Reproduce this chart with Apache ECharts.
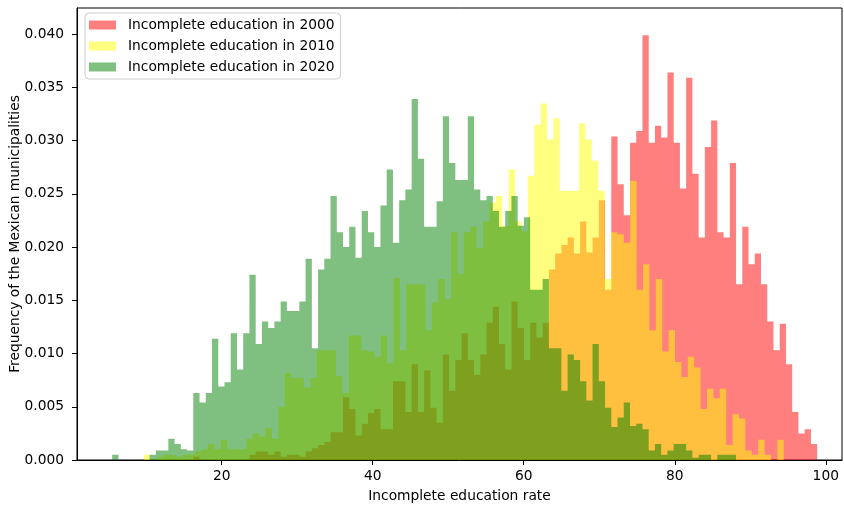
<!DOCTYPE html>
<html>
<head>
<meta charset="utf-8">
<script src="https://cdn.jsdelivr.net/npm/echarts@6/dist/echarts.min.js"></script>
<style>
html,body{margin:0;padding:0;background:#fff;}
#chart{width:844px;height:505px;}
</style>
</head>
<body>
<div id="chart"></div>
<script>
// ---- Data (density histograms, 100 bins each) ----
const seriesNames = ['Incomplete education in 2000', 'Incomplete education in 2010', 'Incomplete education in 2020'];

// bin layout (left edge of first bin, bin width) in "Incomplete education rate" units
const bins2000 = { start: 16.24, width: 0.8262 };
const bins2010 = { start: 9.709, width: 0.8473 };
const bins2020 = { start: 5.497, width: 0.8262 };

const freq2000 = [
  0.0003, 0, 0, 0, 0, 0, 0, 0, 0, 0.0005,
  0.0008, 0.0008, 0.0005, 0.0008, 0.0003, 0.0005, 0.0005, 0.0003, 0.0008, 0.0011,
  0.0014, 0.0017, 0.0026, 0.0026, 0.0059, 0.0048, 0.0023, 0.0034, 0.0044, 0.0048,
  0.0029, 0.0029, 0.0074, 0.0074, 0.0045, 0.0090, 0.0045, 0.0084, 0.0049, 0.0035,
  0.0099, 0.0065, 0.0094, 0.0119, 0.0094, 0.0080, 0.0099, 0.0129, 0.0144, 0.0109,
  0.0085, 0.0149, 0.0124, 0.0094, 0.0129, 0.0115, 0.0129, 0.0179, 0.0194, 0.0202,
  0.0209, 0.0194, 0.0224, 0.0195, 0.0209, 0.0244, 0.0160, 0.0304, 0.0259, 0.0230,
  0.0298, 0.0309, 0.0399, 0.0298, 0.0314, 0.0303, 0.0364, 0.0298, 0.0255, 0.0359,
  0.0269, 0.0209, 0.0294, 0.0319, 0.0214, 0.0209, 0.0279, 0.0165, 0.0219, 0.0184,
  0.0194, 0.0165, 0.0130, 0.0103, 0.0128, 0.0090, 0.0045, 0.0025, 0.0029, 0.0015
];

const freq2010 = [
  0.0005, 0, 0.0003, 0.0005, 0.0005, 0.0003, 0.0005, 0.0005, 0.0008, 0.0010,
  0.0015, 0.0010, 0.0019, 0.0010, 0.0010, 0.0010, 0.0020, 0.0025, 0.0022, 0.0030,
  0.0020, 0.0050, 0.0082, 0.0077, 0.0077, 0.0068, 0.0077, 0.0103, 0.0103, 0.0103,
  0.0079, 0.0063, 0.0117, 0.0117, 0.0103, 0.0102, 0.0097, 0.0117, 0.0091, 0.0171,
  0.0103, 0.0165, 0.0165, 0.0165, 0.0122, 0.0148, 0.0170, 0.0151, 0.0214, 0.0175,
  0.0214, 0.0219, 0.0199, 0.0224, 0.0242, 0.0248, 0.0220, 0.0273, 0.0224, 0.0215,
  0.0267, 0.0315, 0.0335, 0.0301, 0.0321, 0.0253, 0.0253, 0.0253, 0.0316, 0.0301,
  0.0281, 0.0253, 0.0170, 0.0214, 0.0212, 0.0204, 0.0262, 0.0160, 0.0184, 0.0122,
  0.0170, 0.0102, 0.0122, 0.0092, 0.0078, 0.0097, 0.0087, 0.0048, 0.0067, 0.0058,
  0.0067, 0.0014, 0.0043, 0.0039, 0.0009, 0.0005, 0.0019, 0.0005, 0, 0.0019
];

const freq2020 = [
  0.0005, 0, 0, 0, 0, 0, 0.0005, 0.0009, 0.0009, 0.0020,
  0.0015, 0.0010, 0.0009, 0.0063, 0.0054, 0.0063, 0.0114, 0.0069, 0.0073, 0.0119,
  0.0085, 0.0119, 0.0174, 0.0109, 0.0130, 0.0124, 0.0130, 0.0149, 0.0140, 0.0140,
  0.0149, 0.0189, 0.0105, 0.0179, 0.0189, 0.0248, 0.0214, 0.0200, 0.0219, 0.0190,
  0.0234, 0.0214, 0.0200, 0.0239, 0.0273, 0.0204, 0.0244, 0.0254, 0.0339, 0.0283,
  0.0219, 0.0219, 0.0243, 0.0323, 0.0279, 0.0263, 0.0263, 0.0323, 0.0254, 0.0244,
  0.0248, 0.0234, 0.0219, 0.0234, 0.0248, 0.0220, 0.0228, 0.0160, 0.0160, 0.0170,
  0.0105, 0.0105, 0.0065, 0.0099, 0.0094, 0.0074, 0.0056, 0.0109, 0.0074, 0.0049,
  0.0031, 0.0040, 0.0054, 0.0032, 0.0034, 0.0029, 0.0009, 0.0015, 0.0005, 0.0009,
  0.0015, 0.0015, 0.0009, 0.0002, 0.0005, 0.0005, 0, 0.0005, 0.0005, 0.0005
];

const xTicks = [20, 40, 60, 80, 100];
const yTicks = [0, 0.005, 0.010, 0.015, 0.020, 0.025, 0.030, 0.035, 0.040];

const fills = ['rgba(255,0,0,0.5)', 'rgba(255,255,0,0.5)', 'rgba(0,128,0,0.5)'];
const FONT = 'DejaVu Sans';

function histSeries(name, bins, vals, fill) {
  return {
    name: name,
    type: 'custom',
    coordinateSystem: 'cartesian2d',
    itemStyle: { color: fill },
    data: [[bins.start, 0]],
    renderItem: function (params, api) {
      const pts = [api.coord([bins.start, 0])];
      for (let i = 0; i < vals.length; i++) {
        const x0 = bins.start + i * bins.width;
        const x1 = x0 + bins.width;
        pts.push(api.coord([x0, vals[i]]));
        pts.push(api.coord([x1, vals[i]]));
      }
      pts.push(api.coord([bins.start + vals.length * bins.width, 0]));
      return { type: 'polygon', shape: { points: pts }, style: { fill: fill, stroke: null } };
    },
    silent: true,
    animation: false
  };
}

const chart = echarts.init(document.getElementById('chart'), null, { renderer: 'canvas' });
chart.setOption({
  animation: false,
  backgroundColor: '#ffffff',
  textStyle: { fontFamily: FONT },
  grid: { left: 77, right: 2, top: 8, bottom: 45, containLabel: false, outerBoundsMode: 'none',
          show: true, borderColor: '#000', borderWidth: 1, backgroundColor: 'transparent' },
  legend: {
    orient: 'vertical',
    left: 85, top: 13,
    padding: [4, 6, 4, 4],
    itemWidth: 27, itemHeight: 9,
    itemGap: 5,
    icon: 'rect',
    backgroundColor: 'rgba(255,255,255,0.8)',
    borderColor: '#cccccc', borderWidth: 1, borderRadius: 4,
    textStyle: { fontFamily: FONT, fontSize: 13.8, color: '#000', lineHeight: 16, padding: [0, 0, 0, 7] },
    data: seriesNames
  },
  xAxis: {
    type: 'value', min: 0.834, max: 102.15,
    name: 'Incomplete education rate', nameLocation: 'middle', nameGap: 29, nameMoveOverlap: false,
    nameTextStyle: { fontFamily: FONT, fontSize: 13.8, color: '#000' },
    axisLine: { show: true, lineStyle: { color: '#000', width: 1 } },
    axisTick: { show: true, inside: false, length: 5, lineStyle: { color: '#000' }, customValues: xTicks },
    axisLabel: { fontFamily: FONT, fontSize: 13.8, color: '#000', margin: 9, customValues: xTicks },
    splitLine: { show: false }
  },
  yAxis: {
    type: 'value', min: 0, max: 0.04246,
    name: 'Frequency of the Mexican municipalities', nameLocation: 'middle', nameGap: 55, nameMoveOverlap: false,
    nameTextStyle: { fontFamily: FONT, fontSize: 13.8, color: '#000' },
    axisLine: { show: true, lineStyle: { color: '#000', width: 1 } },
    axisTick: { show: true, inside: false, length: 5, lineStyle: { color: '#000' }, customValues: yTicks },
    axisLabel: { fontFamily: FONT, fontSize: 13.8, color: '#000', margin: 13, customValues: yTicks,
      formatter: function (v) { return v.toFixed(3); } },
    splitLine: { show: false }
  },
  series: [
    histSeries(seriesNames[0], bins2000, freq2000, fills[0]),
    histSeries(seriesNames[1], bins2010, freq2010, fills[1]),
    histSeries(seriesNames[2], bins2020, freq2020, fills[2])
  ]
});
</script>
</body>
</html>
